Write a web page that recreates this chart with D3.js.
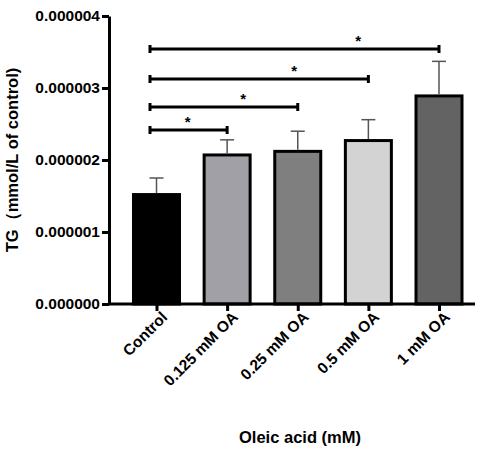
<!DOCTYPE html>
<html><head><meta charset="utf-8">
<script src="https://cdn.jsdelivr.net/npm/d3@7"></script>
<style>body{margin:0;background:#fff}</style></head>
<body><div id="chart"></div>
<script>
const groups = ["Control", "0.125 mM OA", "0.25 mM OA", "0.5 mM OA", "1 mM OA"];
const means = [1.52e-6, 2.07e-6, 2.12e-6, 2.27e-6, 2.89e-6];
const errs = [0.23e-6, 0.21e-6, 0.28e-6, 0.29e-6, 0.48e-6];
const fills = ["#000000", "#a1a0a6", "#7f7f7f", "#d3d3d3", "#636363"];
const yTicks = [0, 1e-6, 2e-6, 3e-6, 4e-6];
const sigTargets = ["0.125 mM OA", "0.25 mM OA", "0.5 mM OA", "1 mM OA"];
const sigY = [130, 107, 79, 49];
const starFrac = [0.49, 0.63, 0.66, 0.72];

const width = 489, height = 455;
const svg = d3.select("#chart").append("svg").attr("width", width).attr("height", height)
  .style("font-family", "Arial, Liberation Sans, sans-serif");

const x = d3.scalePoint().domain(groups).range([156.5, 439]);
const y = d3.scaleLinear().domain([0, 4e-6]).range([304, 16]);
const bw = 46;

// bars
svg.selectAll(".bar").data(groups).enter().append("rect")
  .attr("x", d => x(d) - bw / 2)
  .attr("y", (d, i) => y(means[i]))
  .attr("width", bw)
  .attr("height", (d, i) => y(0) - y(means[i]))
  .attr("fill", (d, i) => fills[i])
  .attr("stroke", "#000").attr("stroke-width", 3);

// error bars
const eb = svg.selectAll(".err").data(groups).enter().append("g").attr("stroke", "#555").attr("stroke-width", 1.5);
eb.append("line").attr("x1", d => x(d)).attr("x2", d => x(d))
  .attr("y1", (d, i) => y(means[i]) - 1.5).attr("y2", (d, i) => y(means[i] + errs[i]));
eb.append("line").attr("x1", d => x(d) - 7).attr("x2", d => x(d) + 7)
  .attr("y1", (d, i) => y(means[i] + errs[i])).attr("y2", (d, i) => y(means[i] + errs[i]));

// axes
const yAxis = svg.append("g").attr("transform", "translate(109,0)")
  .call(d3.axisLeft(y).tickValues(yTicks).tickFormat(d3.format(".6f")).tickSize(7).tickSizeOuter(0));
const xAxis = svg.append("g").attr("transform", "translate(0,304)")
  .call(d3.axisBottom(x).tickSize(7).tickSizeOuter(0));
xAxis.select(".domain").attr("d", "M109,0H475");
[yAxis, xAxis].forEach(g => {
  g.selectAll("path,line").attr("stroke", "#000").attr("stroke-width", 3);
  g.selectAll("text").attr("fill", "#000").attr("font-size", 15.5).attr("font-weight", "bold");
});
yAxis.selectAll("text").attr("x", -9);
xAxis.selectAll("text").attr("text-anchor", "end").attr("dy", 0).attr("y", 10)
  .attr("transform", "rotate(-45) translate(-2,8)");

// significance brackets
const sig = svg.selectAll(".sig").data(sigTargets).enter().append("g")
  .attr("stroke", "#000").attr("stroke-width", 3);
sig.append("line").attr("x1", 150).attr("x2", d => x(d)).attr("y1", (d, i) => sigY[i]).attr("y2", (d, i) => sigY[i]);
sig.append("line").attr("x1", 150).attr("x2", 150).attr("y1", (d, i) => sigY[i] - 4).attr("y2", (d, i) => sigY[i] + 4);
sig.append("line").attr("x1", d => x(d)).attr("x2", d => x(d)).attr("y1", (d, i) => sigY[i] - 4).attr("y2", (d, i) => sigY[i] + 4);
svg.selectAll(".star").data(sigTargets).enter().append("text")
  .attr("x", (d, i) => 150 + (x(d) - 150) * starFrac[i]).attr("y", (d, i) => sigY[i] - 3)
  .attr("text-anchor", "middle").attr("font-size", 15).attr("font-weight", "bold").text("*");

// titles
svg.append("text").attr("x", 300).attr("y", 443).attr("text-anchor", "middle")
  .attr("font-size", 16.5).attr("font-weight", "bold").text("Oleic acid (mM)");
svg.append("text").attr("transform", "rotate(-90)").attr("x", -160).attr("y", 18)
  .attr("text-anchor", "middle").attr("font-size", 16.5).attr("font-weight", "bold").text("TG（mmol/L of control)");
</script></body></html>
